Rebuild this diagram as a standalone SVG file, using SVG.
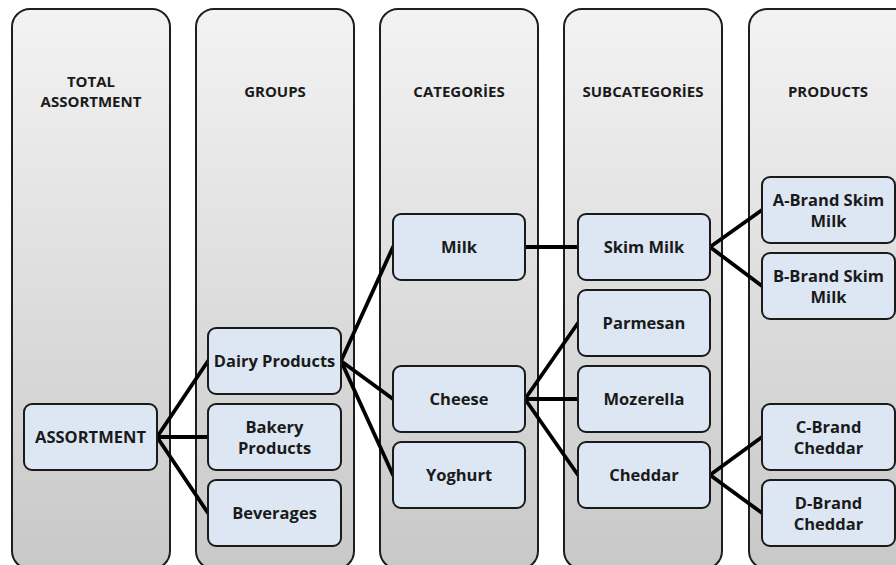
<svg xmlns="http://www.w3.org/2000/svg" width="896" height="565" viewBox="0 0 896 565">
<defs>
<linearGradient id="colg" x1="0" y1="0" x2="0" y2="1">
<stop offset="0" stop-color="#f3f3f3"/>
<stop offset="1" stop-color="#c8c8c8"/>
</linearGradient>
<style>
.col{fill:url(#colg);stroke:#1e1e1e;stroke-width:2}
.node{fill:#dce7f3;stroke:#1a1a1a;stroke-width:2}
.t{font-family:"Open Sans","Liberation Sans",sans-serif;font-weight:bold;font-size:16.5px;fill:#1a1a1a;text-anchor:middle}
.h{font-size:15px}
.c{stroke:#000;stroke-width:3.8;fill:none;stroke-linecap:round}
</style>
</defs>
<rect width="896" height="565" fill="#ffffff"/>
<g id="columns">
<g id="col-total"><rect class="col" x="12" y="9" width="158" height="560" rx="18"/>
<text class="t h" x="91" y="87">TOTAL</text><text class="t h" x="91" y="107">ASSORTMENT</text></g>
<g id="col-groups"><rect class="col" x="196" y="9" width="158" height="560" rx="18"/>
<text class="t h" x="275" y="97">GROUPS</text></g>
<g id="col-categories"><rect class="col" x="380" y="9" width="158" height="560" rx="18"/>
<text class="t h" x="459" y="97">CATEGORİES</text></g>
<g id="col-subcategories"><rect class="col" x="564" y="9" width="158" height="560" rx="18"/>
<text class="t h" x="643" y="97">SUBCATEGORİES</text></g>
<g id="col-products"><rect class="col" x="749" y="9" width="170" height="560" rx="18"/>
<text class="t h" x="828" y="97">PRODUCTS</text></g>
</g>
<g id="connectors">
<path class="c" d="M157,437 L208,361 M157,437 L208,437 M157,437 L208,513"/>
<path class="c" d="M341,361 L393,247 M341,361 L393,399 M341,361 L393,475"/>
<path class="c" d="M525,247 L578,247"/>
<path class="c" d="M525,399 L578,323 M525,399 L578,399 M525,399 L578,475"/>
<path class="c" d="M710,247 L762,210 M710,247 L762,286"/>
<path class="c" d="M710,475 L762,437 M710,475 L762,513"/>
</g>
<g id="n-assortment"><rect class="node" x="24" y="404" width="133" height="66" rx="8"/><text class="t" x="90.5" y="443">ASSORTMENT</text></g>
<g id="n-dairy"><rect class="node" x="208" y="328" width="133" height="66" rx="8"/><text class="t" x="274.5" y="367">Dairy Products</text></g>
<g id="n-bakery"><rect class="node" x="208" y="404" width="133" height="66" rx="8"/><text class="t" x="274.5" y="433">Bakery</text><text class="t" x="274.5" y="454">Products</text></g>
<g id="n-beverages"><rect class="node" x="208" y="480" width="133" height="66" rx="8"/><text class="t" x="274.5" y="519">Beverages</text></g>
<g id="n-milk"><rect class="node" x="393" y="214" width="132" height="66" rx="8"/><text class="t" x="459" y="253">Milk</text></g>
<g id="n-cheese"><rect class="node" x="393" y="366" width="132" height="66" rx="8"/><text class="t" x="459" y="405">Cheese</text></g>
<g id="n-yoghurt"><rect class="node" x="393" y="442" width="132" height="66" rx="8"/><text class="t" x="459" y="481">Yoghurt</text></g>
<g id="n-skim"><rect class="node" x="578" y="214" width="132" height="66" rx="8"/><text class="t" x="644" y="253">Skim Milk</text></g>
<g id="n-parmesan"><rect class="node" x="578" y="290" width="132" height="66" rx="8"/><text class="t" x="644" y="329">Parmesan</text></g>
<g id="n-mozerella"><rect class="node" x="578" y="366" width="132" height="66" rx="8"/><text class="t" x="644" y="405">Mozerella</text></g>
<g id="n-cheddar"><rect class="node" x="578" y="442" width="132" height="66" rx="8"/><text class="t" x="644" y="481">Cheddar</text></g>
<g id="n-abrand"><rect class="node" x="762" y="177" width="133" height="66" rx="8"/><text class="t" x="828.5" y="206">A-Brand Skim</text><text class="t" x="828.5" y="227">Milk</text></g>
<g id="n-bbrand"><rect class="node" x="762" y="253" width="133" height="66" rx="8"/><text class="t" x="828.5" y="282">B-Brand Skim</text><text class="t" x="828.5" y="303">Milk</text></g>
<g id="n-cbrand"><rect class="node" x="762" y="404" width="133" height="66" rx="8"/><text class="t" x="828.5" y="433">C-Brand</text><text class="t" x="828.5" y="454">Cheddar</text></g>
<g id="n-dbrand"><rect class="node" x="762" y="480" width="133" height="66" rx="8"/><text class="t" x="828.5" y="509">D-Brand</text><text class="t" x="828.5" y="530">Cheddar</text></g>
</svg>
